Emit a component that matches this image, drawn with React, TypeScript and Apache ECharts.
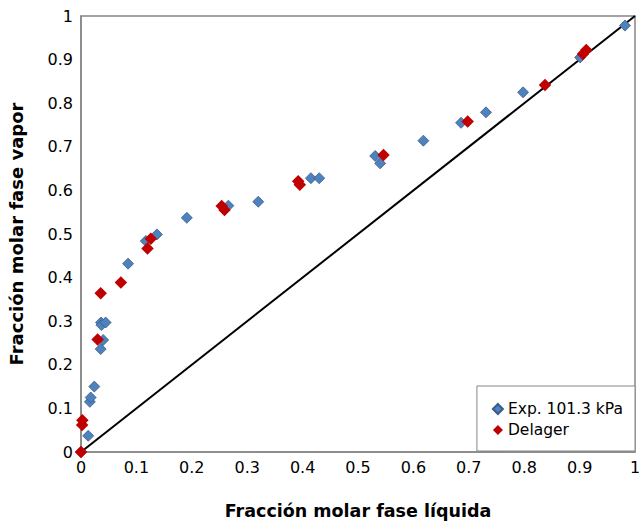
import React, { useEffect, useRef } from "react";
import * as echarts from "echarts";

const expX = [0, 0.013, 0.016, 0.0175, 0.024, 0.0355, 0.040, 0.036, 0.037, 0.0445, 0.085, 0.117, 0.137, 0.191, 0.266, 0.320, 0.415, 0.430, 0.531, 0.540, 0.618, 0.686, 0.731, 0.798, 0.901, 0.982];
const expY = [0, 0.037, 0.115, 0.125, 0.150, 0.236, 0.257, 0.297, 0.291, 0.297, 0.432, 0.484, 0.499, 0.537, 0.565, 0.574, 0.628, 0.628, 0.679, 0.662, 0.714, 0.755, 0.779, 0.825, 0.905, 0.978];

const delX = [0, 0.002, 0.0025, 0.030, 0.0355, 0.072, 0.120, 0.126, 0.254, 0.259, 0.392, 0.395, 0.546, 0.698, 0.8375, 0.906, 0.912];
const delY = [0, 0.062, 0.073, 0.258, 0.364, 0.389, 0.467, 0.489, 0.564, 0.555, 0.621, 0.613, 0.681, 0.758, 0.842, 0.913, 0.922];

const diagX = [0, 1];
const diagY = [0, 1];

const FONT = "DejaVu Sans, Verdana, sans-serif";

export default function App() {
  const ref = useRef<HTMLDivElement>(null);
  useEffect(() => {
    const chart = echarts.init(ref.current!, null, { renderer: "svg" });
    chart.setOption({
      animation: false,
      backgroundColor: "#ffffff",
      textStyle: { fontFamily: FONT },
      grid: {
        left: 81, right: 4, top: 16, bottom: 72,
        outerBoundsMode: "none",
        containLabel: false,
        show: true, borderColor: "#868686", borderWidth: 1.5,
      },
      xAxis: {
        type: "value",
        min: 0,
        max: 1,
        interval: 0.1,
        name: "Fracción molar fase líquida",
        nameLocation: "middle",
        nameGap: 50,
        nameTextStyle: { fontFamily: FONT, fontWeight: "bold", fontSize: 17.5, color: "#000" },
        axisLine: { show: true, lineStyle: { color: "#868686", width: 1.5 } },
        axisTick: { show: false },
        splitLine: { show: false },
        axisLabel: { color: "#000", fontSize: 16, fontFamily: FONT, margin: 7 },
      },
      yAxis: {
        type: "value",
        min: 0,
        max: 1,
        interval: 0.1,
        name: "Fracción molar fase vapor",
        nameLocation: "middle",
        nameGap: 56,
        nameTextStyle: { fontFamily: FONT, fontWeight: "bold", fontSize: 18, color: "#000" },
        axisLine: { show: true, lineStyle: { color: "#868686", width: 1.5 } },
        axisTick: { show: false },
        splitLine: { show: false },
        axisLabel: { color: "#000", fontSize: 16, fontFamily: FONT, margin: 8 },
      },
      legend: {
        orient: "vertical",
        right: 4,
        bottom: 73,
        backgroundColor: "#fff",
        borderColor: "#868686",
        borderWidth: 1,
        padding: [15, 12, 13, 15],
        itemGap: 5,
        itemWidth: 10,
        itemHeight: 10,
        textStyle: { fontFamily: FONT, fontSize: 15.5, color: "#000" },
        data: [
          { name: "Exp. 101.3 kPa", icon: "diamond" },
          { name: "Delager", icon: "diamond" },
        ],
      },
      series: [
        {
          name: "diag",
          type: "line",
          data: diagX.map((x, i) => [x, diagY[i]]),
          symbol: "none",
          lineStyle: { color: "#000", width: 2 },
          silent: true,
          z: 1,
        },
        {
          name: "Exp. 101.3 kPa",
          type: "scatter",
          data: expX.map((x, i) => [x, expY[i]]),
          symbol: "diamond",
          symbolSize: 11,
          itemStyle: { color: "#4F81BD", borderColor: "#385D8A", borderWidth: 0.8, opacity: 1 },
          z: 3,
        },
        {
          name: "Delager",
          type: "scatter",
          data: delX.map((x, i) => [x, delY[i]]),
          symbol: "diamond",
          symbolSize: 12.5,
          itemStyle: { color: "#C00000", opacity: 1 },
          z: 4,
        },
      ],
    });
    return () => chart.dispose();
  }, []);
  return <div ref={ref} style={{ position: "fixed", left: 0, top: 0, width: 639, height: 524 }} />;
}
